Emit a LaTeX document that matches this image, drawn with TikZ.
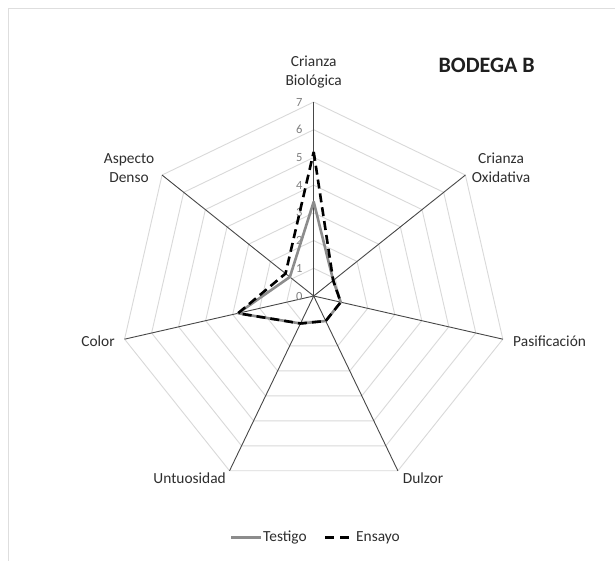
\documentclass[tikz,border=0pt]{standalone}
\usepackage{fontspec}
\setmainfont{Carlito}
\begin{document}
\begin{tikzpicture}[x=1pt,y=-1pt,
  lbl/.style={font=\fontsize{15.4}{19}\selectfont, text=black!82, align=center, inner sep=0pt},
  ticklbl/.style={font=\fontsize{12.5}{14}\selectfont, text=black!50, anchor=east, inner sep=0pt},
  titlelbl/.style={font=\fontsize{22}{26}\selectfont\bfseries, text=black!88, inner sep=0pt},
  ring/.style={draw=black!15, line width=0.9pt},
  spoke/.style={draw=black!72, line width=0.9pt},
  testigo/.style={draw=black!45, line width=2.6pt, line join=round},
  ensayo/.style={draw=black, line width=2.6pt, dash pattern=on 9pt off 5pt, line join=round}]
\useasboundingbox (0,0) rectangle (615,560);
\fill[white] (0,0) rectangle (615,560);
\draw[draw=black!13, line width=1pt] (8.5,600) -- (8.5,8.5) -- (640,8.5);
% chart
\begin{scope}[shift={(313.7,296)}]
  \foreach \k in {1,...,7} {
    \pgfmathsetmacro{\r}{\k*27.714}
    \draw[ring] (-90:\r) \foreach \i in {1,...,6} { -- ({-90+\i*360/7}:\r) } -- cycle;
  }
  \coordinate (o) at (0,0);
  \foreach \i in {0,...,6} {
    \coordinate (a\i) at ({-90+\i*360/7}:194);
    \draw[spoke] (o) -- (a\i);
  }
  \foreach \k in {0,...,7} {
    \node[ticklbl] (t\k) at (-11,{-\k*27.714}) {\k};
  }
  % data
  \def\u{27.714}
  \foreach \v [count=\i from 0] in {3.4,0.9,1.0,1.0,1.1,2.8,1.1} {
    \coordinate (p\i) at ({-90+\i*360/7}:{\v*\u});
  }
  \foreach \v [count=\i from 0] in {5.2,0.9,1.0,1.0,1.1,2.8,1.3} {
    \coordinate (q\i) at ({-90+\i*360/7}:{\v*\u});
  }
  \draw[testigo] (p0) -- (p1) -- (p2) -- (p3) -- (p4) -- (p5) -- (p6) -- cycle;
  \draw[ensayo] (q0) -- (q1) -- (q2) -- (q3) -- (q4) -- (q5) -- (q6) -- cycle;
\end{scope}
% axis labels
\node[lbl] (lcb) at (313.7,72) {Crianza\\Biológica};
\node[lbl] (lco) at (501,168) {Crianza\\Oxidativa};
\node[lbl] (lpa) at (549.6,341) {Pasificación};
\node[lbl] (ldu) at (423,478.6) {Dulzor};
\node[lbl] (lun) at (189.6,478.6) {Untuosidad};
\node[lbl] (lco2) at (98,341) {Color};
\node[lbl] (lad) at (129,168) {Aspecto\\Denso};
% title
\node[titlelbl] (title) at (486.7,65) {BODEGA B};
% legend
\coordinate (g1) at (231,537.5);
\coordinate (g2) at (261,537.5);
\coordinate (h1) at (325,537.5);
\coordinate (h2) at (351,537.5);
\draw[testigo] (g1) -- (g2);
\draw[ensayo, dash pattern=on 9pt off 6pt] (h1) -- (h2);
\node[lbl, anchor=west] (lt) at (263,537.5) {Testigo};
\node[lbl, anchor=west] (le) at (356,537.5) {Ensayo};
\end{tikzpicture}
\end{document}
